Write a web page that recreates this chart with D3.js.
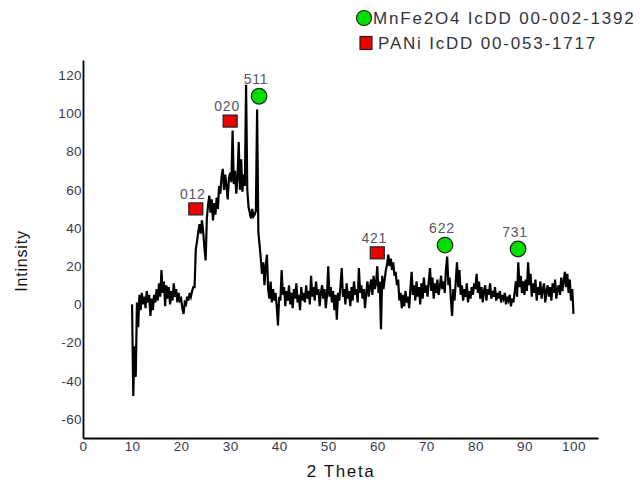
<!DOCTYPE html>
<html>
<head>
<meta charset="utf-8">
<script src="https://cdn.jsdelivr.net/npm/d3@7"></script>
<style>
  html, body { margin: 0; padding: 0; background: #fff; }
  svg { display: block; font-family: "Liberation Sans", Arial, sans-serif; }
</style>
</head>
<body>
<svg id="chart" width="640" height="483"></svg>
<script>
// ---- data ----
const xStart = 10, xStep = 0.25;
const intensity = [
  // 10.00 - 14.75
  0, -48, -22, -38, 1, -12, 5, -3, 6, 0, 4, -2, 7, 1, 5, -6, 3, -3, 5, 1,
  // 15.00 - 19.75
  8, 2, 11, 4, 18, 6, 12, -1, 10, 3, 9, 0, 7, 2, 11, 4, 8, 1, 6, 2,
  // 20.00 - 24.75
  3, -2, -5, 1, 0, 4, 2, 6, 4, 7, 9, 9, 29, 33, 38, 42, 37, 44, 38, 30,
  // 25.00 - 29.75
  23, 45, 52, 57, 48, 55, 44, 53, 47, 56, 50, 62, 58, 67, 71, 60, 68, 62, 55, 66,
  // 30.00 - 34.75
  69, 64, 91, 63, 70, 58, 66, 85, 60, 76, 59, 68, 62, 115, 60, 51, 48, 45, 50, 46,
  // 35.00 - 39.75
  47, 49, 102, 38, 31, 24, 16, 22, 10, 20, 26, 8, 3, 12, 1, 8, 2, 6, -1, -11,
  // 40.00 - 44.75
  4, 2, 18, 5, 9, -1, 7, 2, 10, 0, 6, -2, 8, 3, 11, 1, 5, -3, 9, 2,
  // 45.00 - 49.75
  6, 1, 10, 3, 7, 0, 15, 4, 9, 2, 12, 5, 8, -1, 6, 10, 3, 8, -2, 5,
  // 50.00 - 54.75
  20, 4, 9, 1, 7, -3, 5, -8, 6, 2, 10, 19, 4, 8, 0, 11, 3, 7, -1, 9,
  // 55.00 - 59.75
  2, 12, 5, 8, 1, 19, 6, 10, 3, 8, -2, 6, 12, 4, 9, 13, 5, 15, 8, 11,
  // 60.00 - 64.75
  20, 6, 12, -13, 15, 8, 13, 18, 21, 26, 20, 24, 18, 22, 15, 17, 10, 13, 2, 6,
  // 65.00 - 69.75
  -2, 5, -1, 7, 1, 4, -2, 8, 17, 5, 10, 2, 12, 4, 9, 0, 11, 3, 14, 6,
  // 70.00 - 74.75
  10, 4, 12, 19, 7, 14, 3, 11, 6, 13, 5, 9, 15, 8, 12, 6, 18, 25, 10, 14,
  // 75.00 - 79.75
  3, -6, 8, 2, 12, 22, 9, 18, 5, 10, 2, 8, 4, 11, 1, 7, 3, 9, 5, 11,
  // 80.00 - 84.75
  8, 16, 6, 12, 3, 9, 1, 7, 10, 2, 8, 5, 11, 3, 7, 4, 9, 2, 6, 3,
  // 85.00 - 89.75
  7, 1, 5, 3, 6, 0, 4, 2, 5, -1, 3, 1, 6, 12, 4, 22, 9, 15, 6, 12,
  // 90.00 - 94.75
  5, 13, 7, 22, 10, 16, 4, 11, 6, 13, 2, 9, 5, 12, 3, 8, 11, 1, 7, 10,
  // 95.00 - 100.00
  4, 9, 2, 11, 6, 13, 3, 8, 10, 5, 14, 7, 12, 17, 9, 16, 6, 13, 2, 8, -5
];
const xTicks = [0, 10, 20, 30, 40, 50, 60, 70, 80, 90, 100];
const yTicks = [-60, -40, -20, 0, 20, 40, 60, 80, 100, 120];

const peakLabels = ["012", "020", "511", "421", "622", "731"];
const peakX      = [23.0, 30.0, 35.9, 60.0, 73.8, 88.7];
const peakY      = [50, 96, 109, 27, 31, 29];
const peakPhase  = ["PANi", "PANi", "MnFe2O4", "PANi", "MnFe2O4", "MnFe2O4"];

const legendNames = ["MnFe2O4", "PANi"];
const legendTexts = ["MnFe2O4 IcDD 00-002-1392", "PANi IcDD 00-053-1717"];

const xLabel = "2 Theta";
const yLabel = "Intinsity";

// ---- chart ----
const svg = d3.select("#chart");
const x = d3.scaleLinear().domain([0, 105]).range([83, 598]);
const y = d3.scaleLinear().domain([-70, 128]).range([438, 60]);

const points = intensity.map((v, i) => [xStart + i * xStep, v]);

// axes (no tick marks)
const fmt = d => String(d);
const xAxis = svg.append("g").attr("transform", `translate(0,${y(-70)})`)
  .call(d3.axisBottom(x).tickValues(xTicks).tickFormat(fmt).tickSize(0).tickPadding(3).tickSizeOuter(0));
const yAxis = svg.append("g").attr("transform", `translate(${x(0)},0)`)
  .call(d3.axisLeft(y).tickValues(yTicks).tickFormat(fmt).tickSize(0).tickPadding(1).tickSizeOuter(0));

[xAxis, yAxis].forEach(a => {
  a.select(".domain").attr("stroke", "#000").attr("stroke-width", 1.8);
  a.selectAll("text").attr("fill", "#3a3a4a").attr("font-size", 13.5)
    .attr("letter-spacing", 0.4)
    .attr("font-family", '"Liberation Sans", Arial, sans-serif');
});

// data line
svg.append("path")
  .datum(points)
  .attr("fill", "none")
  .attr("stroke", "#000")
  .attr("stroke-width", 2.2)
  .attr("stroke-linejoin", "miter")
  .attr("d", d3.line().x(d => x(d[0])).y(d => y(d[1])));

// peak markers
const sqW = 14, sqH = 12, cr = 7.8;
const green = "#00e000", red = "#ee0000";
peakLabels.forEach((lab, i) => {
  const cx = x(peakX[i]), cy = y(peakY[i]);
  let top;
  if (peakPhase[i] === "PANi") {
    svg.append("rect").attr("x", cx - sqW / 2).attr("y", cy - sqH / 2)
      .attr("width", sqW).attr("height", sqH)
      .attr("fill", red).attr("stroke", "#222").attr("stroke-width", 1.2);
    top = cy - sqH / 2;
  } else {
    svg.append("circle").attr("cx", cx).attr("cy", cy).attr("r", cr)
      .attr("fill", green).attr("stroke", "#222").attr("stroke-width", 1.2);
    top = cy - cr;
  }
  svg.append("text").attr("x", cx - 3).attr("y", top - 4)
    .attr("text-anchor", "middle").attr("font-size", 14).attr("letter-spacing", 0.8)
    .attr("fill", "#555566").text(lab);
});

// legend
const lg = svg.append("g");
legendNames.forEach((n, i) => {
  const ly = 18 + i * 25;
  if (n === "MnFe2O4") {
    lg.append("circle").attr("cx", 364).attr("cy", ly).attr("r", 7.5)
      .attr("fill", green).attr("stroke", "#222").attr("stroke-width", 1.2);
  } else {
    lg.append("rect").attr("x", 360).attr("y", ly - 6.5).attr("width", 12).attr("height", 13)
      .attr("fill", red).attr("stroke", "#222").attr("stroke-width", 1.2);
  }
  lg.append("text").attr("x", i === 0 ? 373 : 378).attr("y", ly + 6)
    .attr("font-size", 17).attr("letter-spacing", 1.8).attr("fill", "#333340").text(legendTexts[i]);
});

// axis titles
svg.append("text").attr("x", 341).attr("y", 477).attr("text-anchor", "middle")
  .attr("font-size", 17).attr("letter-spacing", 1.6).attr("fill", "#111").text(xLabel);
svg.append("text").attr("transform", "translate(27,261) rotate(-90)")
  .attr("text-anchor", "middle").attr("font-size", 16).attr("letter-spacing", 0.8)
  .attr("fill", "#111").text(yLabel);
</script>
</body>
</html>
